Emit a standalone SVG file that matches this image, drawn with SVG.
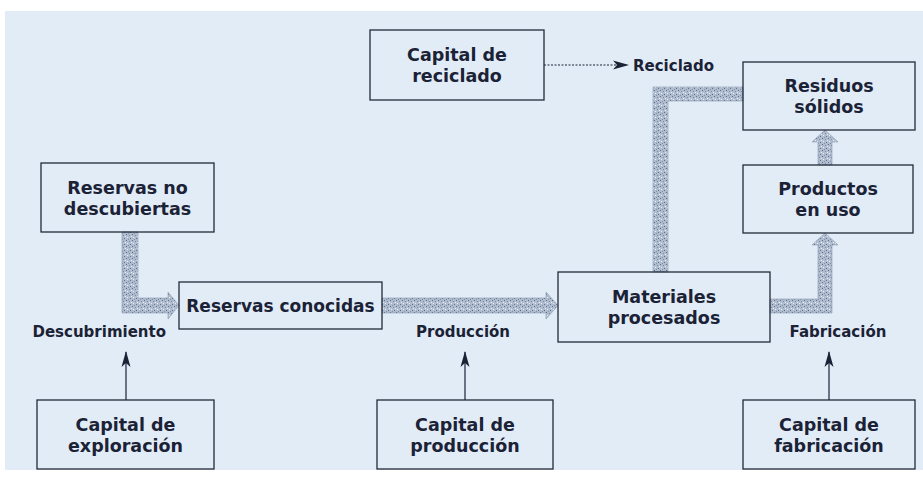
<svg xmlns="http://www.w3.org/2000/svg" width="923" height="479" viewBox="0 0 923 479">
<style>
.box{fill:none;stroke:#232a3a;stroke-width:1.3}
.t{font-family:"DejaVu Sans","Open Sans","Liberation Sans",sans-serif;font-weight:bold;fill:#1b2236;text-anchor:middle}
.bt{font-size:17.5px}
.lb{font-size:15px}
.thick{fill:url(#stip);stroke:#8d9bb0;stroke-width:0.6}
.thin{stroke:#1b2236;stroke-width:1.2;fill:none}
</style>
<defs>
<pattern id="stip" width="6" height="6" patternUnits="userSpaceOnUse">
<rect width="6" height="6" fill="#b0bdd0"/>
<rect x="0" y="0" width="1" height="1" fill="#5f6e86"/>
<rect x="3" y="1" width="1" height="1" fill="#7a889e"/>
<rect x="1" y="3" width="1" height="1" fill="#e9eff7"/>
<rect x="4" y="4" width="1" height="1" fill="#5f6e86"/>
<rect x="2" y="5" width="1" height="1" fill="#8391a7"/>
<rect x="5" y="2" width="1" height="1" fill="#e9eff7"/>
</pattern>
<marker id="ah" markerWidth="18" markerHeight="10" refX="15" refY="5" orient="auto" markerUnits="userSpaceOnUse">
<path d="M0,0.5 L16,5 L0,9.5 L4,5 z" fill="#1b2236"/>
</marker>
</defs>
<rect x="0" y="0" width="923" height="479" fill="#ffffff"/>
<rect x="5" y="11" width="918" height="459" fill="#e2ecf7"/>

<g id="connectors">
<polygon class="thick" points="122,232 138,232 138,298 168,298 168,292 179,305.5 168,319 168,313 122,313"/>
<polygon class="thick" points="382,298 546,298 546,292 558,305.5 546,319 546,313 382,313"/>
<polygon class="thick" points="653,272 653,87 743,87 743,101 668,101 668,272"/>
<polygon class="thick" points="770,299 818,299 818,245 812,245 825,233 838,245 832,245 832,313 770,313"/>
<polygon class="thick" points="818,165 818,142 812,142 825,130 838,142 832,142 832,165"/>
<line class="thin" x1="126" y1="400" x2="126" y2="352" marker-end="url(#ah)"/>
<line class="thin" x1="465" y1="400" x2="465" y2="352" marker-end="url(#ah)"/>
<line class="thin" x1="829" y1="400" x2="829" y2="352" marker-end="url(#ah)"/>
<line class="thin" x1="544" y1="65" x2="628" y2="65" stroke-dasharray="2 1.5" marker-end="url(#ah)"/>
<text class="t lb" x="633" y="71" style="text-anchor:start">Reciclado</text>
<text class="t lb" x="166" y="337" style="text-anchor:end">Descubrimiento</text>
<text class="t lb" x="463" y="337">Producción</text>
<text class="t lb" x="838" y="337">Fabricación</text>
</g>

<g id="capital-reciclado">
<rect class="box" x="370" y="30" width="174" height="70"/>
<text class="t bt" x="457" y="61">Capital de<tspan x="457" dy="21.3">reciclado</tspan></text>
</g>
<g id="residuos-solidos">
<rect class="box" x="743" y="62" width="172" height="68"/>
<text class="t bt" x="829" y="92">Residuos<tspan x="829" dy="21.3">sólidos</tspan></text>
</g>
<g id="productos-en-uso">
<rect class="box" x="743" y="165" width="170" height="68"/>
<text class="t bt" x="828" y="195">Productos<tspan x="828" dy="21.3">en uso</tspan></text>
</g>
<g id="reservas-no-descubiertas">
<rect class="box" x="41" y="163" width="173" height="69"/>
<text class="t bt" x="127.5" y="193.5">Reservas no<tspan x="127.5" dy="21.3">descubiertas</tspan></text>
</g>
<g id="reservas-conocidas">
<rect class="box" x="179" y="282" width="203" height="47"/>
<text class="t bt" x="280.5" y="312" style="font-size:17px">Reservas conocidas</text>
</g>
<g id="materiales-procesados">
<rect class="box" x="558" y="272" width="212" height="70"/>
<text class="t bt" x="664" y="303">Materiales<tspan x="664" dy="21.3">procesados</tspan></text>
</g>
<g id="capital-exploracion">
<rect class="box" x="37" y="400" width="177" height="69"/>
<text class="t bt" x="125.5" y="431">Capital de<tspan x="125.5" dy="21.3">exploración</tspan></text>
</g>
<g id="capital-produccion">
<rect class="box" x="377" y="400" width="176" height="69"/>
<text class="t bt" x="465" y="431">Capital de<tspan x="465" dy="21.3">producción</tspan></text>
</g>
<g id="capital-fabricacion">
<rect class="box" x="743" y="400" width="172" height="69"/>
<text class="t bt" x="829" y="431">Capital de<tspan x="829" dy="21.3">fabricación</tspan></text>
</g>
</svg>
